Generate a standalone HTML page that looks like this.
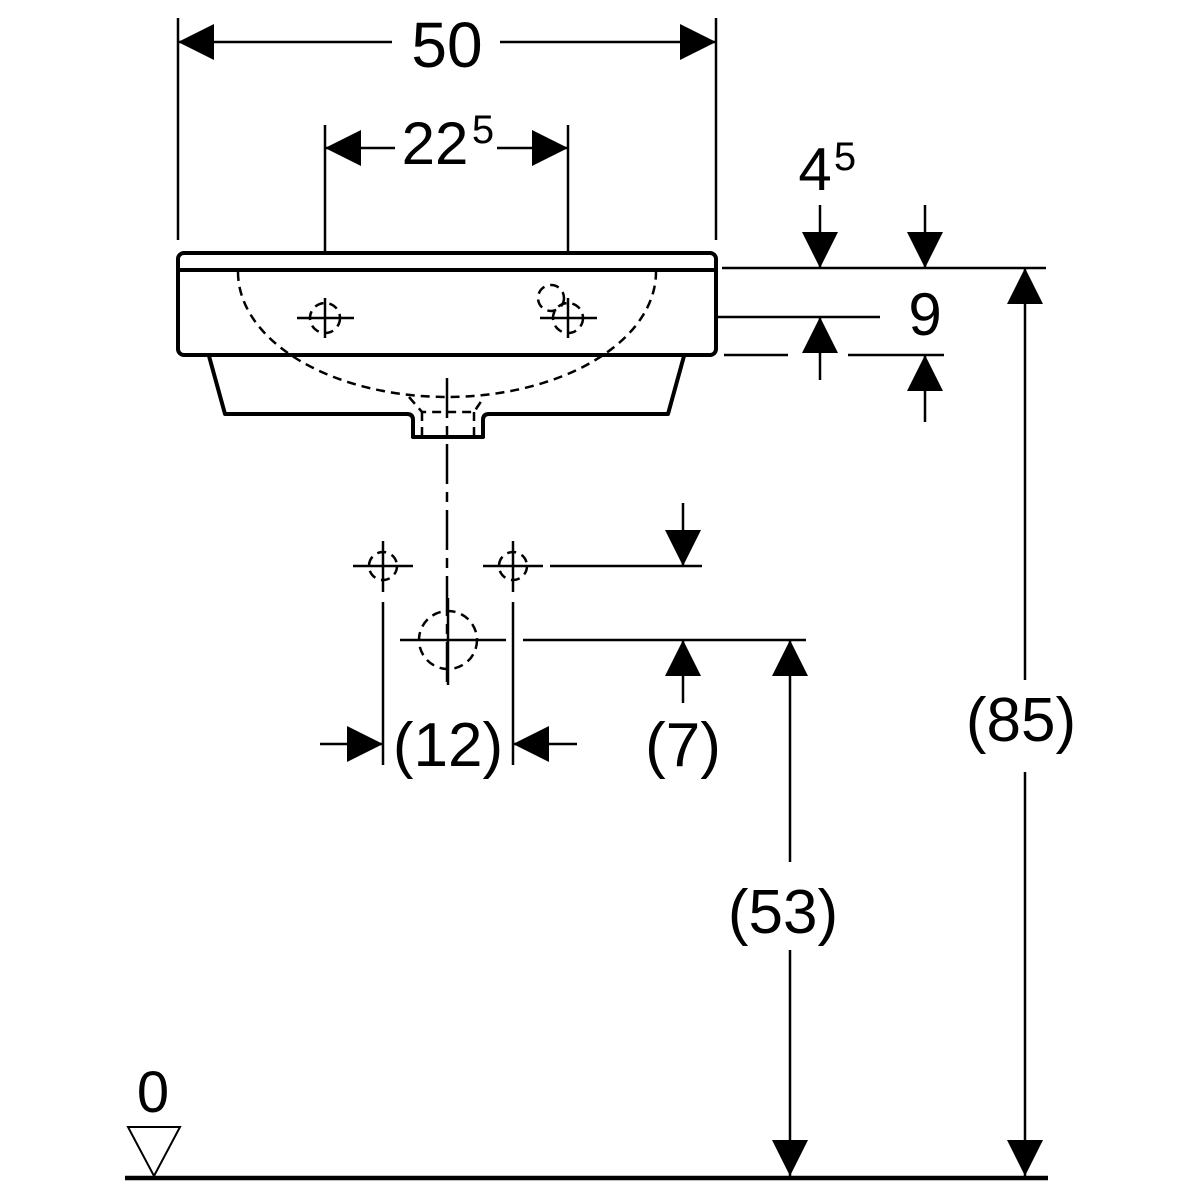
<!DOCTYPE html>
<html><head><style>body{margin:0;background:#fff}svg{display:block}</style></head>
<body>
<svg width="1200" height="1200" viewBox="0 0 1200 1200" xmlns="http://www.w3.org/2000/svg" font-family="Liberation Sans, sans-serif" fill="none" stroke="#000">
<defs>
<path id="ar" d="M0,0 L-18,-36 L18,-36 Z" fill="#000" stroke="none"/>
</defs>
<g stroke-width="2.5">
<line x1="178" y1="18" x2="178" y2="240"/><line x1="716" y1="18" x2="716" y2="240"/>
<line x1="178" y1="42" x2="392" y2="42"/><line x1="500" y1="42" x2="716" y2="42"/>
<line x1="325" y1="125" x2="325" y2="252"/><line x1="568" y1="125" x2="568" y2="252"/>
<line x1="325" y1="148" x2="395" y2="148"/><line x1="497" y1="148" x2="568" y2="148"/>
<line x1="722" y1="268" x2="1046" y2="268"/>
<line x1="718" y1="317" x2="880" y2="317"/>
<line x1="724" y1="355" x2="788" y2="355"/><line x1="848" y1="355" x2="944" y2="355"/>
<line x1="820" y1="205" x2="820" y2="268"/><line x1="820" y1="317" x2="820" y2="380"/>
<line x1="925" y1="205" x2="925" y2="268"/><line x1="925" y1="355" x2="925" y2="422"/>
<line x1="1025" y1="268" x2="1025" y2="680"/><line x1="1025" y1="772" x2="1025" y2="1176"/>
<line x1="550" y1="566" x2="702" y2="566"/><line x1="683" y1="503" x2="683" y2="566"/>
<line x1="523" y1="640" x2="806" y2="640"/><line x1="683" y1="640" x2="683" y2="703"/>
<line x1="790" y1="640" x2="790" y2="862"/><line x1="790" y1="950" x2="790" y2="1176"/>
<line x1="383" y1="602" x2="383" y2="765"/><line x1="513" y1="602" x2="513" y2="765"/>
<line x1="320" y1="744" x2="383" y2="744"/><line x1="513" y1="744" x2="577" y2="744"/>
<line x1="297" y1="318" x2="354" y2="318"/><line x1="325" y1="298" x2="325" y2="338"/>
<line x1="540" y1="318" x2="597" y2="318"/><line x1="568" y1="298" x2="568" y2="338"/>
<line x1="353" y1="566" x2="413" y2="566"/><line x1="383" y1="541" x2="383" y2="592"/>
<line x1="483" y1="566" x2="543" y2="566"/><line x1="513" y1="541" x2="513" y2="592"/>
<line x1="400" y1="640" x2="506" y2="640"/><line x1="448" y1="598" x2="448" y2="685"/>
<line x1="447" y1="378" x2="447" y2="686" stroke-dasharray="40,8,10,8"/>
</g>
<g stroke-width="4" stroke-linejoin="round">
<rect x="178" y="253" width="538" height="102" rx="6"/>
<line x1="178" y1="270" x2="716" y2="270"/>
<path d="M209,356 L225,414 L407,414 Q413,414 413,420 L413,437 L483,437 L483,420 Q483,414 489,414 L668,414 L684,356"/>
</g>
<g stroke-width="2.5" stroke-dasharray="9,6">
<path d="M238,272 A209,125 0 0 0 656,272"/>
<path d="M409,397 L422,412 L474,412 L484,397"/>
<line x1="422" y1="412" x2="422" y2="435"/><line x1="474" y1="412" x2="474" y2="435"/>
<circle cx="325" cy="318" r="15"/><circle cx="568" cy="318" r="15"/><circle cx="551" cy="298" r="13"/>
<circle cx="383" cy="566" r="14"/><circle cx="513" cy="566" r="14"/><circle cx="448" cy="640" r="29"/>
</g>
<use href="#ar" transform="translate(178,42) rotate(90)"/>
<use href="#ar" transform="translate(716,42) rotate(-90)"/>
<use href="#ar" transform="translate(325,148) rotate(90)"/>
<use href="#ar" transform="translate(568,148) rotate(-90)"/>
<use href="#ar" transform="translate(820,268)"/>
<use href="#ar" transform="translate(820,317) rotate(180)"/>
<use href="#ar" transform="translate(925,268)"/>
<use href="#ar" transform="translate(925,355) rotate(180)"/>
<use href="#ar" transform="translate(1025,268) rotate(180)"/>
<use href="#ar" transform="translate(1025,1176)"/>
<use href="#ar" transform="translate(683,566)"/>
<use href="#ar" transform="translate(683,640) rotate(180)"/>
<use href="#ar" transform="translate(790,640) rotate(180)"/>
<use href="#ar" transform="translate(790,1176)"/>
<use href="#ar" transform="translate(383,744) rotate(-90)"/>
<use href="#ar" transform="translate(513,744) rotate(90)"/>
<line x1="125" y1="1178" x2="1048" y2="1178" stroke-width="4.5"/>
<path d="M128,1127 L180,1127 L154,1176 Z" stroke-width="2"/>
<g fill="#000" stroke="none" font-size="62" text-anchor="middle">
<text x="447" y="67" font-size="64">50</text>
<text x="435" y="164" font-size="60">22</text>
<text x="483" y="143" font-size="40">5</text>
<text x="815" y="190" font-size="60">4</text>
<text x="845" y="170" font-size="40">5</text>
<text x="925" y="335" font-size="60">9</text>
<text x="1021" y="741">(85)</text>
<text x="783" y="933">(53)</text>
<text x="448" y="766">(12)</text>
<text x="683" y="766">(7)</text>
<text x="153" y="1112" font-size="58">0</text>
</g>
</svg>
</body></html>
